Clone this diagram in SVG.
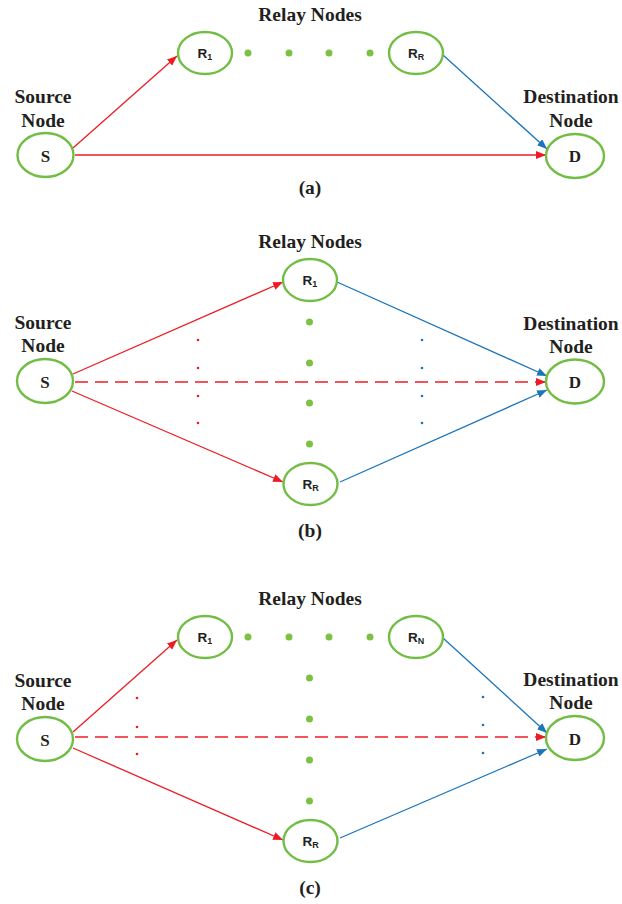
<svg xmlns="http://www.w3.org/2000/svg" width="622" height="904" viewBox="0 0 622 904">
  <defs>
    <style>
      .node { fill: #ffffff; stroke: #72BD44; stroke-width: 2.4; }
      .lbl { font-family: "Liberation Serif", "Times New Roman", serif; font-weight: bold; font-size: 19.5px; fill: #231F20; text-anchor: middle; }
      .sd { font-family: "Liberation Serif", "Times New Roman", serif; font-weight: bold; font-size: 17px; fill: #231F20; text-anchor: middle; }
      .rl { font-family: "Liberation Sans", Arial, sans-serif; font-weight: bold; font-size: 13.5px; fill: #231F20; text-anchor: middle; }
      .sub { font-size: 9px; }
      .red { stroke: #ED1C24; stroke-width: 1.3; fill: none; marker-end: url(#ahRed); }
      .blue { stroke: #1B75BC; stroke-width: 1.3; fill: none; marker-end: url(#ahBlue); }
      .dash { stroke-dasharray: 13 7; }
      .gdot { fill: #7DC142; }
      .rdot { fill: #ED1C24; }
      .bdot { fill: #1B75BC; }
    </style>
    <marker id="ahRed" markerUnits="userSpaceOnUse" markerWidth="10" markerHeight="8" refX="10" refY="4" orient="auto">
      <path d="M0,0 L10,4 L0,8 Z" fill="#ED1C24"/>
    </marker>
    <marker id="ahBlue" markerUnits="userSpaceOnUse" markerWidth="10" markerHeight="8" refX="10" refY="4" orient="auto">
      <path d="M0,0 L10,4 L0,8 Z" fill="#1B75BC"/>
    </marker>
  </defs>

  <rect width="622" height="904" fill="#ffffff"/>

  <!-- ===== Panel (a) ===== -->
  <g id="panel-a">
    <g id="connectors-a">
      <line class="red" x1="73" y1="148" x2="177" y2="56"/>
      <line class="red" x1="75" y1="155" x2="546" y2="155"/>
      <line class="blue" x1="443" y1="55" x2="547" y2="149"/>
    </g>
    <text class="lbl" x="310" y="21">Relay Nodes</text>
    <text class="lbl" x="43" y="103">Source</text>
    <text class="lbl" x="43" y="127">Node</text>
    <text class="lbl" x="571" y="103">Destination</text>
    <text class="lbl" x="571" y="127">Node</text>
    <g id="a-S"><ellipse class="node" cx="45.5" cy="155" rx="28" ry="22"/><text class="sd" x="45.5" y="161.5">S</text></g>
    <g id="a-R1"><ellipse class="node" cx="205" cy="53" rx="27" ry="21"/><text class="rl" x="205" y="58">R<tspan class="sub" dy="2">1</tspan></text></g>
    <g id="a-RR"><ellipse class="node" cx="416" cy="53" rx="27" ry="21"/><text class="rl" x="416" y="58">R<tspan class="sub" dy="2">R</tspan></text></g>
    <g id="a-D"><ellipse class="node" cx="575" cy="156" rx="29" ry="22"/><text class="sd" x="575" y="162">D</text></g>
    <g id="a-dots">
      <circle class="gdot" cx="248" cy="53" r="3.5"/>
      <circle class="gdot" cx="289" cy="53" r="3.5"/>
      <circle class="gdot" cx="329" cy="53" r="3.5"/>
      <circle class="gdot" cx="370" cy="53" r="3.5"/>
    </g>
    <text class="lbl" x="310" y="194">(a)</text>
  </g>

  <!-- ===== Panel (b) ===== -->
  <g id="panel-b">
    <g id="connectors-b">
      <line class="red" x1="73" y1="374" x2="283" y2="282"/>
      <line class="red" x1="72" y1="391" x2="283" y2="482"/>
      <line class="red dash" x1="75" y1="382" x2="546" y2="382"/>
      <line class="blue" x1="337" y1="282" x2="547" y2="376"/>
      <line class="blue" x1="340" y1="482" x2="547" y2="390"/>
    </g>
    <text class="lbl" x="310" y="248">Relay Nodes</text>
    <text class="lbl" x="43" y="329">Source</text>
    <text class="lbl" x="43" y="352">Node</text>
    <text class="lbl" x="571" y="330">Destination</text>
    <text class="lbl" x="571" y="353">Node</text>
    <g id="b-S"><ellipse class="node" cx="45" cy="381" rx="28" ry="22"/><text class="sd" x="45" y="387.5">S</text></g>
    <g id="b-R1"><ellipse class="node" cx="310" cy="280" rx="27" ry="21"/><text class="rl" x="310" y="285">R<tspan class="sub" dy="2">1</tspan></text></g>
    <g id="b-RR"><ellipse class="node" cx="310.5" cy="484" rx="27" ry="21"/><text class="rl" x="310.5" y="489">R<tspan class="sub" dy="2">R</tspan></text></g>
    <g id="b-D"><ellipse class="node" cx="575" cy="381.5" rx="29" ry="22"/><text class="sd" x="575" y="388">D</text></g>
    <g id="b-dots">
      <circle class="gdot" cx="309.5" cy="322" r="3.5"/>
      <circle class="gdot" cx="309.5" cy="363" r="3.5"/>
      <circle class="gdot" cx="309.5" cy="403" r="3.5"/>
      <circle class="gdot" cx="309.5" cy="444" r="3.5"/>
      <circle class="rdot" cx="198" cy="340" r="1.3"/>
      <circle class="rdot" cx="198" cy="368" r="1.3"/>
      <circle class="rdot" cx="198" cy="396" r="1.3"/>
      <circle class="rdot" cx="198" cy="423" r="1.3"/>
      <circle class="bdot" cx="422" cy="340" r="1.3"/>
      <circle class="bdot" cx="422" cy="368" r="1.3"/>
      <circle class="bdot" cx="422" cy="396" r="1.3"/>
      <circle class="bdot" cx="422" cy="423" r="1.3"/>
    </g>
    <text class="lbl" x="310" y="537">(b)</text>
  </g>

  <!-- ===== Panel (c) ===== -->
  <g id="panel-c">
    <g id="connectors-c">
      <line class="red" x1="73" y1="732" x2="177" y2="640"/>
      <line class="red" x1="73" y1="748" x2="283" y2="840"/>
      <line class="red dash" x1="75" y1="737" x2="546" y2="737"/>
      <line class="blue" x1="443" y1="638" x2="547" y2="733"/>
      <line class="blue" x1="340" y1="838" x2="547" y2="749"/>
    </g>
    <text class="lbl" x="310" y="605">Relay Nodes</text>
    <text class="lbl" x="43" y="687">Source</text>
    <text class="lbl" x="43" y="710">Node</text>
    <text class="lbl" x="571" y="686">Destination</text>
    <text class="lbl" x="571" y="709">Node</text>
    <g id="c-S"><ellipse class="node" cx="45" cy="739" rx="28" ry="22"/><text class="sd" x="45" y="745.5">S</text></g>
    <g id="c-R1"><ellipse class="node" cx="205" cy="637" rx="27" ry="21"/><text class="rl" x="205" y="642">R<tspan class="sub" dy="2">1</tspan></text></g>
    <g id="c-RN"><ellipse class="node" cx="416" cy="637" rx="27" ry="21"/><text class="rl" x="416" y="642">R<tspan class="sub" dy="2">N</tspan></text></g>
    <g id="c-RR"><ellipse class="node" cx="310.5" cy="841" rx="27" ry="21"/><text class="rl" x="310.5" y="846">R<tspan class="sub" dy="2">R</tspan></text></g>
    <g id="c-D"><ellipse class="node" cx="575" cy="738" rx="29" ry="22"/><text class="sd" x="575" y="744.5">D</text></g>
    <g id="c-dots">
      <circle class="gdot" cx="248" cy="637" r="3.5"/>
      <circle class="gdot" cx="289" cy="637" r="3.5"/>
      <circle class="gdot" cx="329" cy="637" r="3.5"/>
      <circle class="gdot" cx="370" cy="637" r="3.5"/>
      <circle class="gdot" cx="309.5" cy="678" r="3.5"/>
      <circle class="gdot" cx="309.5" cy="719" r="3.5"/>
      <circle class="gdot" cx="309.5" cy="760" r="3.5"/>
      <circle class="gdot" cx="309.5" cy="801" r="3.5"/>
      <circle class="rdot" cx="137" cy="698" r="1.3"/>
      <circle class="rdot" cx="137" cy="727" r="1.3"/>
      <circle class="rdot" cx="137" cy="754" r="1.3"/>
      <circle class="bdot" cx="483" cy="697" r="1.3"/>
      <circle class="bdot" cx="483" cy="725" r="1.3"/>
      <circle class="bdot" cx="483" cy="753" r="1.3"/>
    </g>
    <text class="lbl" x="310" y="894">(c)</text>
  </g>
</svg>
